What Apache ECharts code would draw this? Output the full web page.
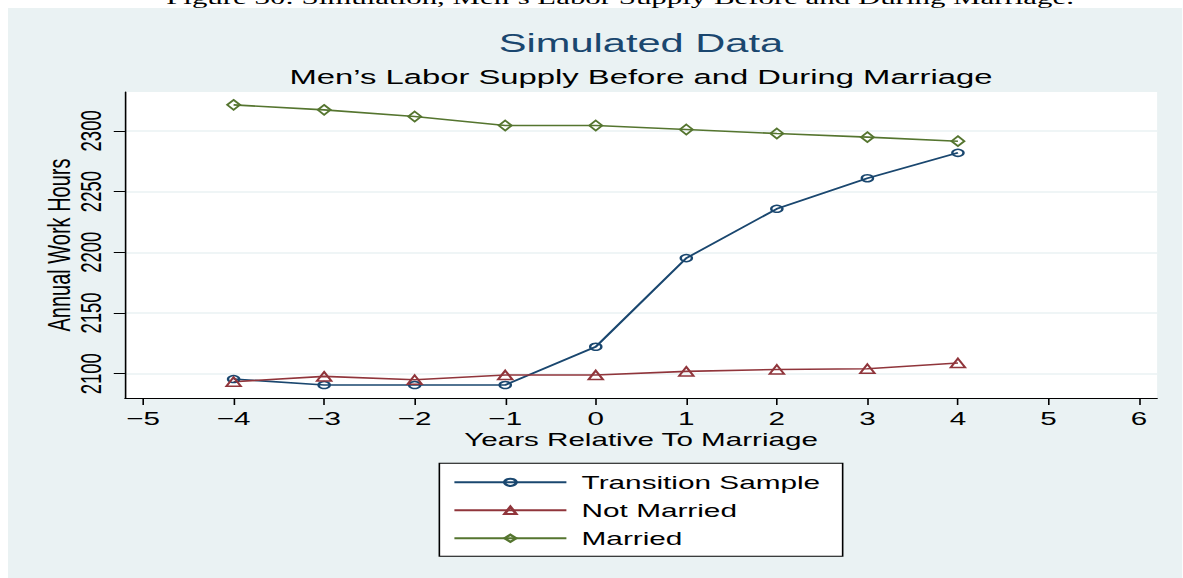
<!DOCTYPE html>
<html>
<head>
<meta charset="utf-8">
<title>Simulated Data</title>
<script src="https://cdn.jsdelivr.net/npm/echarts@6.0.0/dist/echarts.min.js"></script>
<style>
  html, body { margin: 0; padding: 0; background: #fff; overflow: hidden; }
  /* the reference picture is stretched sideways, so the chart is drawn narrow and widened */
  #main { width: 739.375px; height: 578px; transform: scaleX(1.6); transform-origin: 0 0; }
</style>
</head>
<body>
<div id="main"></div>
<script>
// data
const years = [-4, -3, -2, -1, 0, 1, 2, 3, 4]
const transition = [2095.6, 2090.7, 2090.7, 2090.7, 2122.2, 2195.2, 2235.8, 2261.0, 2281.9]
const notMarried = [2093.4, 2097.8, 2095.0, 2098.9, 2098.9, 2101.9, 2103.5, 2104.1, 2108.8]
const married = [2321.4, 2317.3, 2311.8, 2304.4, 2304.4, 2301.1, 2297.8, 2294.8, 2291.5]
const xTicks = [-5, -4, -3, -2, -1, 0, 1, 2, 3, 4, 5, 6]
const yTicks = [2100, 2150, 2200, 2250, 2300]

const FONT = '"Liberation Sans", Arial, sans-serif'
const BG = '#eaf2f3'

function pairs (ys) {
  return years.map((x, i) => [x, ys[i]])
}

function lineSeries (name, ys, color, symbol, size) {
  return {
    name: name,
    type: 'line',
    data: pairs(ys),
    color: color,
    symbol: symbol,
    symbolSize: size,
    lineStyle: { color: color, width: 1.6 },
    itemStyle: { color: 'rgba(255,255,255,0)', borderColor: color, borderWidth: 1.5 },
    emphasis: { disabled: true }
  }
}

const chart = echarts.init(document.getElementById('main'), null, { renderer: 'svg' })

const option = {
  animation: false,
  backgroundColor: BG,
  graphic: [
    // white page margin round the panel
    { type: 'rect', shape: { x: 0, y: 0, width: 740, height: 8 }, style: { fill: '#fff' }, z: 1 },
    { type: 'rect', shape: { x: 0, y: 0, width: 5, height: 578 }, style: { fill: '#fff' }, z: 1 },
    // caption of the page, cut at the top edge as in the picture
    {
      type: 'text',
      x: 387.5,
      y: -2.5,
      z: 2,
      style: {
        text: 'Figure 30: Simulation, Men\u2019s Labor Supply Before and During Marriage.',
        font: '19.3px "Liberation Serif", "Times New Roman", serif',
        fill: '#000',
        align: 'center',
        verticalAlign: 'middle'
      }
    }
  ],
  title: [
    {
      text: 'Simulated Data',
      left: 400.6,
      top: 30,
      padding: 0,
      textAlign: 'center',
      textStyle: { fontFamily: FONT, fontSize: 26, fontWeight: 'normal', color: '#1a476f' }
    },
    {
      text: 'Men\u2019s Labor Supply Before and During Marriage',
      left: 400.6,
      top: 66,
      padding: 0,
      textAlign: 'center',
      textStyle: { fontFamily: FONT, fontSize: 20.5, fontWeight: 'normal', color: '#000' }
    }
  ],
  legend: {
    orient: 'vertical',
    left: 274.6,
    top: 463.3,
    padding: [9, 14, 8, 8.4],
    itemWidth: 70,
    itemHeight: 9,
    itemGap: 8,
    backgroundColor: '#fff',
    borderColor: '#000',
    borderWidth: 1,
    borderRadius: 0,
    selectedMode: false,
    textStyle: { fontFamily: FONT, fontSize: 18.6, lineHeight: 20, color: '#000', padding: [0, 0, 0, 4.5] },
    data: ['Transition Sample', 'Not Married', 'Married']
  },
  grid: {
    left: 78.1,
    right: 15.8,
    top: 92,
    bottom: 180,
    show: true,
    backgroundColor: '#fff',
    borderWidth: 0
  },
  xAxis: {
    type: 'value',
    min: -5.2,
    max: 6.2,
    name: 'Years Relative To Marriage',
    nameLocation: 'middle',
    nameGap: 32,
    nameMoveOverlap: false,
    nameTextStyle: { fontFamily: FONT, fontSize: 18.5, color: '#000' },
    axisLine: { onZero: false, lineStyle: { color: '#000', width: 1 } },
    axisTick: { length: 7, customValues: xTicks, lineStyle: { color: '#000', width: 1 } },
    axisLabel: {
      customValues: xTicks,
      margin: 11,
      fontFamily: FONT,
      fontSize: 18.5,
      color: '#000',
      formatter: v => (v < 0 ? '\u2212' + Math.abs(v) : String(v))
    },
    splitLine: { show: false }
  },
  yAxis: {
    type: 'value',
    min: 2080,
    max: 2332,
    name: 'Annual Work Hours',
    nameLocation: 'middle',
    nameGap: 31,
    nameMoveOverlap: false,
    nameTextStyle: { fontFamily: FONT, fontSize: 20, color: '#000' },
    axisLine: { show: true, onZero: false, lineStyle: { color: '#000', width: 1 } },
    axisTick: { show: true, length: 7, customValues: yTicks, lineStyle: { color: '#000', width: 1 } },
    axisLabel: {
      customValues: yTicks,
      rotate: 90,
      margin: 12,
      fontFamily: FONT,
      fontSize: 18.5,
      color: '#000',
      formatter: v => String(v)
    },
    splitLine: { show: true, lineStyle: { color: BG, width: 1.5 } }
  },
  series: [
    lineSeries('Transition Sample', transition, '#1a476f', 'circle', 7),
    lineSeries('Not Married', notMarried, '#90353b', 'triangle', 9),
    lineSeries('Married', married, '#55752f', 'diamond', [8, 10])
  ]
}

chart.setOption(option)
</script>
</body>
</html>
